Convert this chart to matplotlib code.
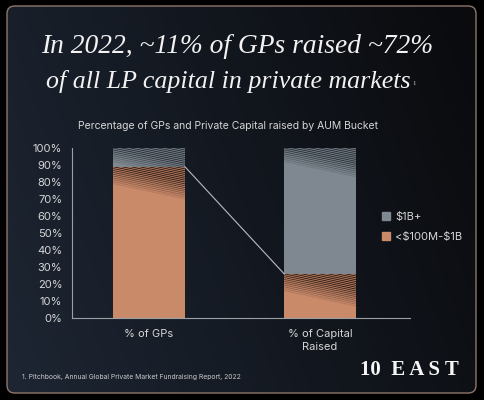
import numpy as np
import matplotlib
matplotlib.use('Agg')
import matplotlib.pyplot as plt
from matplotlib.patches import FancyBboxPatch
from matplotlib.lines import Line2D
from matplotlib.colors import LinearSegmentedColormap

# ---------------- data ----------------
categories = ['% of GPs', '% of Capital\nRaised']
mid_values = [89, 26]      # <$100M-$1B
large_values = [11, 74]    # $1B+
series_labels = ['$1B+', '<$100M-$1B']
yticks = [0, 10, 20, 30, 40, 50, 60, 70, 80, 90, 100]
title_lines = ['In 2022, ~11% of GPs raised ~72%', 'of all LP capital in private markets']
subtitle = 'Percentage of GPs and Private Capital raised by AUM Bucket'
footnote = '1. Pitchbook, Annual Global Private Market Fundraising Report, 2022'
brand = '10  E A S T'

ORANGE = '#c98a6a'
GRAY = '#7f8890'
TXT = '#d6d6d6'

W, H = 484, 400
fig = plt.figure(figsize=(W / 100, H / 100), dpi=100, facecolor='black')

# ---------------- background panel ----------------
bg = fig.add_axes([0, 0, 1, 1], zorder=0)
bg.set_axis_off()
bg.set_xlim(0, 1)
bg.set_ylim(0, 1)
x0p, x1p = 7 / W, 476 / W
y0p, y1p = 1 - 393 / H, 1 - 6 / H
panel = FancyBboxPatch((x0p, y0p), x1p - x0p, y1p - y0p,
                       boxstyle='round,pad=0,rounding_size=0.016',
                       mutation_aspect=W / H, transform=bg.transAxes,
                       facecolor='none', edgecolor='#8f766b', lw=1.0, zorder=2)
xx, yy = np.meshgrid(np.linspace(0, 1, 300), np.linspace(0, 1, 300))
t = np.clip(0.85 * xx + 0.25 * yy - 0.05, 0, 1)
cmap = LinearSegmentedColormap.from_list('bgc', ['#1d2532', '#131820', '#0a0b0e'])
im = bg.imshow(t, extent=[0, 1, 0, 1], origin='lower', cmap=cmap, aspect='auto', zorder=1)
im.set_clip_path(panel)
bg.add_patch(panel)

# ---------------- titles ----------------
t1 = fig.text(0.5 - 5 / W, 1 - 53 / H, title_lines[0], ha='center', va='baseline',
              family='Liberation Serif', style='italic', fontsize=19.8, color='#f2f2f2')
t2 = fig.text(46 / W, 1 - 88 / H, title_lines[1], ha='left', va='baseline',
              family='Liberation Serif', style='italic', fontsize=18.6, color='#f2f2f2')
fig.canvas.draw()
bb = t2.get_window_extent()
fig.text((bb.x1 + 2) / W, 1 - 85 / H, '1', family='Liberation Serif', fontsize=5,
         color='#cccccc', va='baseline')
fig.text(228 / W, 1 - 126 / H, subtitle, ha='center', va='center',
         family='Inter', fontsize=7.5, color=TXT)
fig.text(22 / W, 1 - 377 / H, footnote, ha='left', va='center',
         family='Inter', fontsize=4.9, color='#c8c8c8')
fig.text(459 / W, 1 - 370 / H, brand, ha='right', va='center',
         family='Liberation Serif', weight='bold', fontsize=15, color='#f5f5f5')

# ---------------- chart ----------------
ax = fig.add_axes([72 / W, 1 - 318 / H, 338 / W, 170 / H], zorder=1)
ax.set_facecolor('none')
x = np.arange(len(categories))
bw = 0.42
ax.set_xlim(-0.45, 1.526)
ax.set_ylim(0, 100)

bars_mid = ax.bar(x, mid_values, width=bw, color=ORANGE, zorder=2, lw=0)
bars_large = ax.bar(x, large_values, bottom=mid_values, width=bw, color=GRAY, zorder=2, lw=0)


def stripes(patch, xc, top, band, color, n=12, drop=9.0):
    xl, xr = xc - bw / 2, xc + bw / 2
    sp = band / n
    kstart = -int(np.ceil(drop / sp)) - 1
    for k in range(kstart, n):
        yl = top - k * sp
        a = 0.85 * (1 - max(k, 0) / n) + 0.05
        ln = ax.plot([xl, xr], [yl, yl - drop], color=color, lw=0.8, alpha=a,
                     zorder=3, solid_capstyle='butt')[0]
        ln.set_clip_path(patch)


for i in range(len(categories)):
    stripes(bars_mid[i], x[i], mid_values[i], 11, '#2a1812', n=10)
    stripes(bars_large[i], x[i], 100, min(9, large_values[i]), '#252b33', n=8)

ax.plot([x[0] + bw / 2, x[1] - bw / 2], [mid_values[0], mid_values[1]],
        color='#b9bdc1', lw=0.8, zorder=4)

for s in ['top', 'right']:
    ax.spines[s].set_visible(False)
for s in ['left', 'bottom']:
    ax.spines[s].set_color('#9aa0a6')
    ax.spines[s].set_linewidth(0.8)

ax.set_yticks(yticks)
ax.set_yticklabels([f'{v}%' for v in yticks], family='Inter', fontsize=8, color=TXT)
ax.set_xticks(x)
ax.set_xticklabels(categories, family='Inter', fontsize=8, color=TXT, linespacing=1.3)
ax.tick_params(axis='y', length=0, pad=7)
ax.tick_params(axis='x', length=0, pad=8)

handles = [Line2D([], [], marker='s', ls='none', markersize=5.5, color=GRAY),
           Line2D([], [], marker='s', ls='none', markersize=5.5, color=ORANGE)]
leg = fig.legend(handles, [s.replace('$', r'\$') for s in series_labels], loc='center left',
                 bbox_to_anchor=(372 / W, 1 - 227 / H), frameon=False,
                 handlelength=0.8, handletextpad=0.4, labelspacing=0.9,
                 prop={'family': 'Inter', 'size': 8})
for tx in leg.get_texts():
    tx.set_color(TXT)

fig.savefig('out.png', dpi=100, facecolor='black')
